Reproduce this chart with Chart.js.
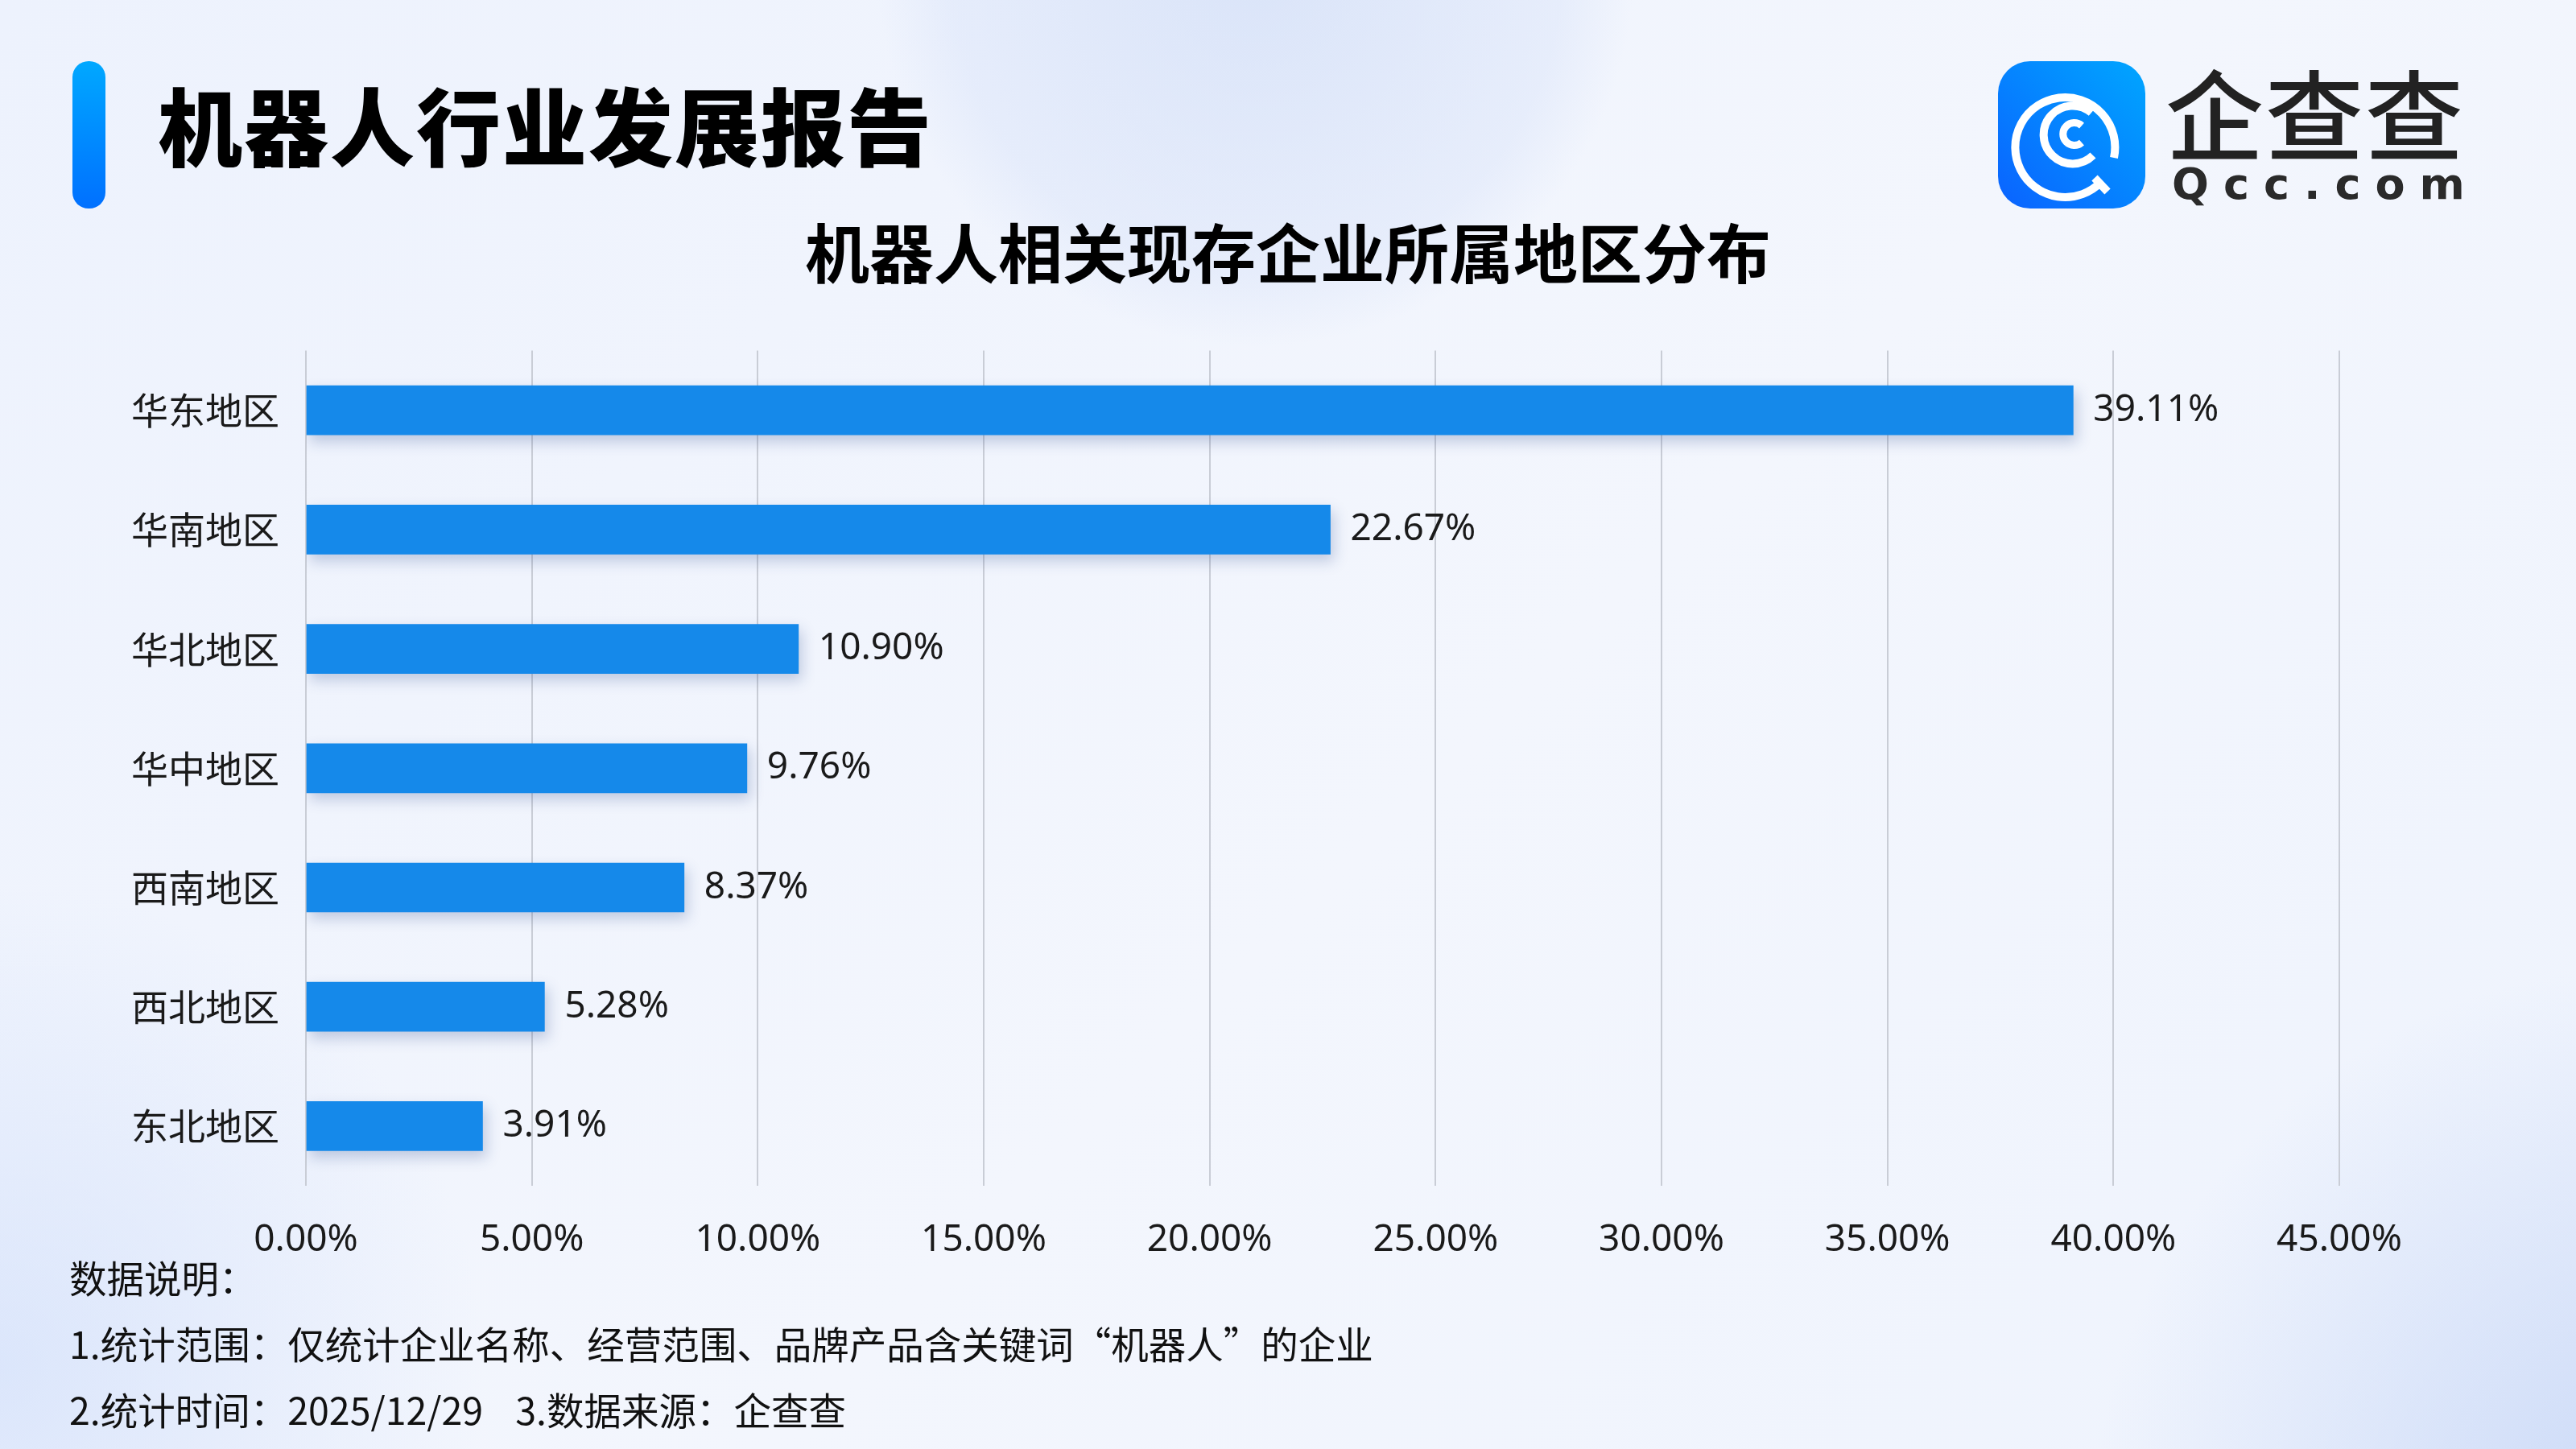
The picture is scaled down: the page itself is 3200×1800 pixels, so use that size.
<!DOCTYPE html>
<html>
<head>
<meta charset="utf-8">
<script src="https://cdn.jsdelivr.net/npm/chart.js@4.4.1/dist/chart.umd.min.js"></script>
<style>
  html, body { margin: 0; padding: 0; }
  body {
    width: 3200px; height: 1800px; position: relative; overflow: hidden;
    font-family: "Noto Sans CJK SC", "Noto Sans", sans-serif; color: #1a1a1a;
    background:
      radial-gradient(circle at 1560px -40px, rgba(200,215,245,0.55) 0, rgba(210,222,248,0.35) 380px, rgba(238,243,253,0) 470px),
      radial-gradient(circle at 3300px 1900px, rgba(190,208,245,0.75) 0, rgba(225,233,252,0) 700px),
      radial-gradient(circle at 0px 1700px, rgba(205,220,250,0.6) 0, rgba(225,233,252,0) 600px),
      linear-gradient(135deg, #edf2fd 0%, #f3f6fd 55%, #eef3fd 100%);
  }
  .accent {
    position: absolute; left: 90px; top: 76px; width: 41px; height: 183px;
    border-radius: 20px; background: linear-gradient(180deg, #00a8ff, #0070ff);
  }
  .main-title {
    position: absolute; left: 196px; top: 82px; font-size: 105px; font-weight: 900;
    line-height: 140px; color: #000; letter-spacing: 2px;
  }
  .logo-icon { position: absolute; left: 2482px; top: 76px; width: 183px; height: 183px; }
  .logo-cn {
    position: absolute; left: 2690px; top: 62px; font-size: 122px; font-weight: 500;
    line-height: 150px; color: #222; letter-spacing: 2px;
  }
  .logo-en {
    position: absolute; left: 2698px; top: 194px; font-size: 54px; font-weight: 700;
    line-height: 70px; color: #2a2a2a; letter-spacing: 18px; font-family: "DejaVu Sans", sans-serif;
  }
  .chart-title {
    position: absolute; left: 0; width: 3200px; top: 258px; text-align: center;
    font-size: 80px; font-weight: 700; line-height: 104px; color: #000;
  }
  .chart-box { position: absolute; left: 0; top: 375px; width: 3200px; height: 1195px; }
  .notes { position: absolute; left: 86px; top: 1545px; font-size: 46.5px; line-height: 82px; color: #111; }
  .gap { display: inline-block; width: 40px; }
</style>
</head>
<body>
<div class="accent"></div>
<div class="main-title">机器人行业发展报告</div>
<svg class="logo-icon" viewBox="0 0 183 183">
  <defs>
    <linearGradient id="lg" x1="0" y1="1" x2="1" y2="0">
      <stop offset="0" stop-color="#0a62ff"/>
      <stop offset="1" stop-color="#00a6ff"/>
    </linearGradient>
  </defs>
  <rect x="0" y="0" width="183" height="183" rx="40" fill="url(#lg)"/>
  <g fill="none" stroke="#fff" stroke-linecap="butt">
    <path d="M 128 150 A 62 62 0 1 1 144 120" stroke-width="10"/>
    <path d="M 120 145 L 136 162" stroke-width="10"/>
    <path d="M 116 64 A 36 36 0 1 0 118 117" stroke-width="10"/>
    <path d="M 104 80 A 14 14 0 1 0 104 101" stroke-width="9"/>
  </g>
</svg>
<div class="logo-cn">企查查</div>
<div class="logo-en">Qcc.com</div>
<div class="chart-title">机器人相关现存企业所属地区分布</div>
<div class="chart-box"><canvas id="myChart" width="3200" height="1195"></canvas></div>
<div class="notes">
  <div>数据说明：</div>
  <div>1.统计范围：仅统计企业名称、经营范围、品牌产品含关键词“机器人”的企业</div>
  <div>2.统计时间：2025/12/29<span class="gap"></span>3.数据来源：企查查</div>
</div>
<script>
var regions = ['华东地区', '华南地区', '华北地区', '华中地区', '西南地区', '西北地区', '东北地区'];
var shares = [39.11, 22.67, 10.90, 9.76, 8.37, 5.28, 3.91];

// bar shadow + value labels at the bar ends
var barExtras = {
    id: 'barExtras',
    beforeDatasetDraw: function (chart) {
        var c = chart.ctx;
        c.save();
        c.shadowColor = 'rgba(40, 70, 140, 0.25)';
        c.shadowBlur = 16;
        c.shadowOffsetX = 4;
        c.shadowOffsetY = 8;
    },
    afterDatasetDraw: function (chart) {
        chart.ctx.restore();
    },
    afterDatasetsDraw: function (chart) {
        var c = chart.ctx;
        var meta = chart.getDatasetMeta(0);
        c.save();
        c.font = '46px "Noto Sans", "Noto Sans CJK SC", sans-serif';
        c.fillStyle = '#1a1a1a';
        c.textAlign = 'left';
        c.textBaseline = 'middle';
        meta.data.forEach(function (bar, i) {
            c.fillText(shares[i].toFixed(2) + '%', bar.x + 25, bar.y);
        });
        c.restore();
    }
};

var ctx = document.getElementById('myChart').getContext('2d');
var chart = new Chart(ctx, {
    type: 'bar',
    data: {
        labels: regions,
        datasets: [{
            data: shares,
            backgroundColor: '#1589ea',
            borderWidth: 0,
            barThickness: 61
        }]
    },
    plugins: [barExtras],
    options: {
        indexAxis: 'y',
        responsive: false,
        animation: false,
        devicePixelRatio: 1,
        layout: { padding: { top: 25, right: 294, left: 0, bottom: 0 } },
        plugins: { legend: { display: false }, tooltip: { enabled: false } },
        scales: {
            x: {
                min: 0,
                max: 45,
                afterFit: function (s) { s.height = 97; },
                border: { display: false },
                grid: { color: '#c9cdd6', lineWidth: 2, drawTicks: false },
                ticks: {
                    stepSize: 5,
                    padding: 40,
                    color: '#1a1a1a',
                    font: { size: 46, family: '"Noto Sans", "Noto Sans CJK SC", sans-serif' },
                    callback: function (v) { return v.toFixed(2) + '%'; }
                }
            },
            y: {
                afterFit: function (s) { s.width = 380; },
                border: { display: false },
                grid: { display: false, drawTicks: false },
                ticks: {
                    padding: 33,
                    color: '#1a1a1a',
                    font: { size: 46, family: '"Noto Sans CJK SC", sans-serif' }
                }
            }
        }
    }
});
</script>
</body>
</html>
